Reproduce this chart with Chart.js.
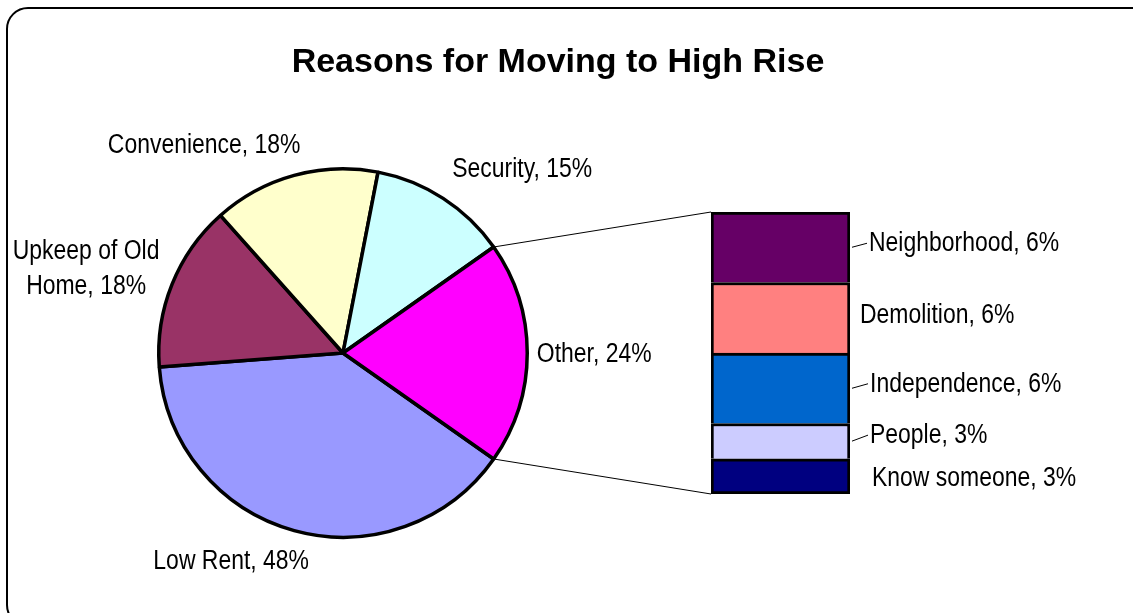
<!DOCTYPE html>
<html>
<head>
<meta charset="utf-8">
<title>Reasons for Moving to High Rise</title>
<script src="https://cdn.jsdelivr.net/npm/chart.js@4.4.1/dist/chart.umd.min.js"></script>
<style>
  html, body { margin: 0; padding: 0; background: #fff; overflow: hidden; }
  #wrap { position: relative; width: 1133px; height: 613px; overflow: hidden; background: #fff; }
  #frame {
    position: absolute; left: 6px; top: 7px; width: 1150px; height: 620px;
    border: 2px solid #000; border-radius: 22px; box-sizing: border-box;
  }
  canvas { position: absolute; left: 0; top: 0; }
</style>
</head>
<body>
<div id="wrap">
  <div id="frame"></div>
  <canvas id="pieChart" width="1133" height="613"></canvas>
  <canvas id="barChart" width="1133" height="613"></canvas>
</div>
<script>
// main pie (last slice is broken out into the bar)
const pieLabels = ["Low Rent", ["Upkeep of Old", "Home"], "Convenience", "Security", "Other"];
const pieValues = [48, 18, 18, 15, 24];
const pieColors = ["#9999FF", "#993366", "#FFFFCC", "#CCFFFF", "#FF00FF"];

// breakdown of "Other", bottom to top
const otherLabels = ["Know someone", "People", "Independence", "Demolition", "Neighborhood"];
const otherValues = [3, 3, 6, 6, 6];
const otherColors = ["#000080", "#CCCCFF", "#0066CC", "#FF8080", "#660066"];

const chartTitle = "Reasons for Moving to High Rise";

// no narrow face installed, so squeeze the regular one
const LABEL_FONT = '27px "Liberation Sans", Arial, sans-serif';
const NARROW = 0.85;
const TITLE_FONT = 'bold 34px "Liberation Sans", Arial, sans-serif';

const pieTotal = pieValues.reduce((a, b) => a + b, 0);
const otherTotal = otherValues.reduce((a, b) => a + b, 0);
// centre the "Other" slice on 3 o'clock
const otherShare = pieValues[pieValues.length - 1] / pieTotal;
const pieRotation = 90 + otherShare * 180;

// label nudges from the slice's outer mid point (text centre, baseline)
const pieLabelNudge = [[-63, 38], [-86, -25], [-90, -22], [79, -21], [67, 9]];
// bar labels: x gap from bar, baseline offset from segment centre, leader line
const barLabelNudge = [
  { dx: 22, dy: 9.5, leader: false },
  { dx: 20, dy: 2, leader: true },
  { dx: 20, dy: 3.5, leader: true },
  { dx: 10, dy: 5, leader: false },
  { dx: 19, dy: 4, leader: true }
];

function narrowText(ctx, text, x, y, align) {
  ctx.save();
  ctx.font = LABEL_FONT;
  ctx.textAlign = "left";
  ctx.textBaseline = "alphabetic";
  const w = ctx.measureText(text).width * NARROW;
  const left = align === "center" ? x - w / 2 : x;
  ctx.translate(left, y);
  ctx.scale(NARROW, 1);
  ctx.fillText(text, 0, 0);
  ctx.restore();
}

const titlePlugin = {
  id: "titleText",
  afterDraw(chart) {
    const ctx = chart.ctx;
    ctx.save();
    ctx.font = TITLE_FONT;
    ctx.fillStyle = "#000";
    ctx.textAlign = "center";
    ctx.textBaseline = "alphabetic";
    ctx.fillText(chartTitle, 558, 72);
    ctx.restore();
  }
};

const pieLabelPlugin = {
  id: "pieLabels",
  afterDraw(chart) {
    const ctx = chart.ctx;
    const meta = chart.getDatasetMeta(0);
    ctx.save();
    ctx.fillStyle = "#000";
    meta.data.forEach((arc, i) => {
      const p = arc.getProps(["x", "y", "startAngle", "endAngle", "outerRadius"], true);
      const mid = (p.startAngle + p.endAngle) / 2;
      const ax = p.x + Math.cos(mid) * p.outerRadius;
      const ay = p.y + Math.sin(mid) * p.outerRadius;
      const lines = [].concat(pieLabels[i]);
      lines[lines.length - 1] += ", " + pieValues[i] + "%";
      lines.forEach((line, k) => {
        narrowText(ctx, line, ax + pieLabelNudge[i][0], ay + pieLabelNudge[i][1] + k * 35, "center");
      });
    });
    ctx.restore();
  }
};

const pieChart = new Chart(document.getElementById("pieChart"), {
  type: "pie",
  data: {
    labels: pieLabels.map(l => [].concat(l).join(" ")),
    datasets: [{
      data: pieValues,
      backgroundColor: pieColors,
      borderColor: "#000000",
      borderWidth: 3.5
    }]
  },
  options: {
    responsive: false,
    animation: false,
    rotation: pieRotation,
    layout: { padding: { left: 157, right: 604, top: 167, bottom: 74 } },
    plugins: {
      legend: { display: false },
      tooltip: { enabled: false },
      title: { display: false }
    }
  },
  plugins: [titlePlugin, pieLabelPlugin]
});

const connectorPlugin = {
  id: "connectors",
  afterDraw(chart) {
    const ctx = chart.ctx;
    const arc = pieChart.getDatasetMeta(0).data[pieValues.length - 1];
    const p = arc.getProps(["x", "y", "startAngle", "endAngle", "outerRadius"], true);
    const topSeg = chart.getDatasetMeta(otherValues.length - 1).data[0];
    const botSeg = chart.getDatasetMeta(0).data[0];
    const barLeft = topSeg.x - topSeg.width / 2;

    ctx.save();
    ctx.strokeStyle = "#000";
    ctx.lineWidth = 1;
    ctx.beginPath();
    ctx.moveTo(p.x + Math.cos(p.startAngle) * p.outerRadius, p.y + Math.sin(p.startAngle) * p.outerRadius);
    ctx.lineTo(barLeft, topSeg.y);
    ctx.moveTo(p.x + Math.cos(p.endAngle) * p.outerRadius, p.y + Math.sin(p.endAngle) * p.outerRadius);
    ctx.lineTo(barLeft, botSeg.base);
    ctx.stroke();
    ctx.restore();
  }
};

const barLabelPlugin = {
  id: "barLabels",
  afterDraw(chart) {
    const ctx = chart.ctx;
    ctx.save();
    ctx.fillStyle = "#000";
    ctx.strokeStyle = "#000";
    ctx.lineWidth = 1;
    otherLabels.forEach((name, i) => {
      const el = chart.getDatasetMeta(i).data[0];
      const right = el.x + el.width / 2;
      const cy = (el.y + el.base) / 2;
      const n = barLabelNudge[i];
      const tx = right + n.dx;
      const ty = cy + n.dy;
      narrowText(ctx, name + ", " + otherValues[i] + "%", tx, ty, "left");
      if (n.leader) {
        ctx.beginPath();
        ctx.moveTo(right + 2, cy);
        ctx.lineTo(tx - 2, ty - 8);
        ctx.stroke();
      }
    });
    ctx.restore();
  }
};

const barChart = new Chart(document.getElementById("barChart"), {
  type: "bar",
  data: {
    labels: ["Other"],
    datasets: otherLabels.map((name, i) => ({
      label: name,
      data: [otherValues[i]],
      backgroundColor: otherColors[i],
      borderColor: "#000000",
      borderWidth: 3,
      borderSkipped: i === 0 ? false : "start",
      barPercentage: 1,
      categoryPercentage: 1
    }))
  },
  options: {
    responsive: false,
    animation: false,
    layout: { padding: { left: 711, right: 283, top: 212, bottom: 119 } },
    scales: {
      x: { stacked: true, display: false },
      y: { stacked: true, display: false, min: 0, max: otherTotal }
    },
    plugins: {
      legend: { display: false },
      tooltip: { enabled: false }
    }
  },
  plugins: [connectorPlugin, barLabelPlugin]
});
</script>
</body>
</html>
